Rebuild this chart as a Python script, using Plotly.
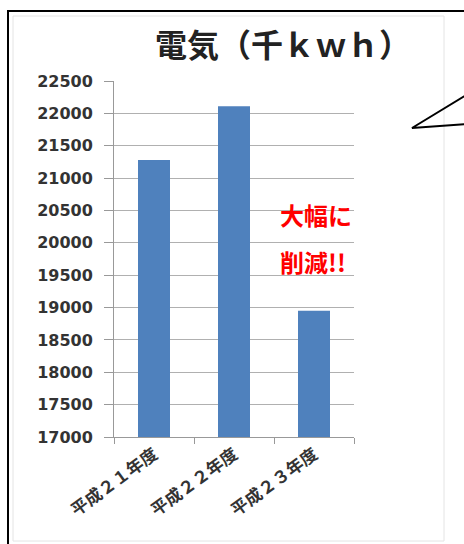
import plotly.graph_objects as go

# 電気使用量（千kWh）
categories = ["平成２１年度", "平成２２年度", "平成２３年度"]
usage = [21280, 22110, 18950]
y_ticks = list(range(17000, 22501, 500))

W, H = 464, 544
L, R, T, B = 114, 110, 81, 107
pw, ph = W - L - R, H - T - B


def px(x):
    return (x - L) / pw


def py(y):
    return (H - B - y) / ph


CJK = "Noto Sans CJK JP"

fig = go.Figure(
    go.Bar(
        x=categories,
        y=usage,
        width=0.4,
        marker=dict(color="#4F81BD", line=dict(width=0)),
    )
)

fig.update_layout(
    width=W,
    height=H,
    margin=dict(l=L, r=R, t=T, b=B),
    paper_bgcolor="white",
    plot_bgcolor="white",
    showlegend=False,
    bargap=0.6,
    xaxis=dict(
        type="category",
        range=[-0.5, 2.5],
        tickson="boundaries",
        ticks="outside",
        ticklen=6,
        tickcolor="#999999",
        showline=True,
        linecolor="#999999",
        linewidth=1,
        showgrid=False,
        tickangle=-36,
        tickfont=dict(family=CJK, size=17, color="#333333", weight="bold"),
    ),
    yaxis=dict(
        range=[17000, 22500],
        tickvals=y_ticks,
        tickformat="d",
        ticks="outside",
        ticklen=9,
        tickcolor="#999999",
        showline=True,
        linecolor="#999999",
        linewidth=1,
        showgrid=True,
        gridcolor="#b0b0b0",
        gridwidth=1,
        zeroline=False,
        ticklabelstandoff=8,
        tickfont=dict(family="DejaVu Sans", size=16, color="#333333", weight="bold"),
    ),
)

# title
fig.add_annotation(
    text="電気（千ｋｗｈ）",
    x=px(283), y=py(43), xref="paper", yref="paper",
    xanchor="center", yanchor="middle", showarrow=False,
    font=dict(family=CJK, size=32, color="#222222", weight="bold"),
)

# red callout text
fig.add_annotation(
    text="大幅に",
    x=px(278), y=py(214), xref="paper", yref="paper",
    xanchor="left", yanchor="middle", showarrow=False,
    font=dict(family=CJK, size=24, color="#ff0000", weight="bold"),
)
fig.add_annotation(
    text="削減!!",
    x=px(278), y=py(261), xref="paper", yref="paper",
    xanchor="left", yanchor="middle", showarrow=False,
    font=dict(family=CJK, size=24, color="#ff0000", weight="bold"),
)

# outer frame
fig.add_shape(
    type="rect", xref="paper", yref="paper",
    x0=px(8), x1=px(470), y0=py(11), y1=py(552),
    line=dict(color="#000000", width=2), fillcolor="rgba(0,0,0,0)",
)
# faint chart-area frame
fig.add_shape(
    type="rect", xref="paper", yref="paper",
    x0=px(13), x1=px(444), y0=py(16), y1=py(541),
    line=dict(color="#e4e4e4", width=1), fillcolor="rgba(0,0,0,0)",
)
# speech-bubble pointer
fig.add_shape(
    type="path", xref="paper", yref="paper",
    path=f"M {px(468)},{py(94)} L {px(412)},{py(128)} L {px(468)},{py(124)}",
    line=dict(color="#000000", width=2), fillcolor="rgba(0,0,0,0)",
)

fig.write_html("out.html")
